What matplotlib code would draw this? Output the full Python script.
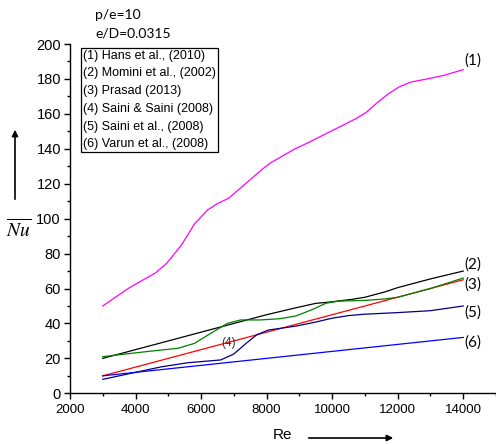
#!/usr/bin/env python3

import numpy as np
import matplotlib
matplotlib.use('Agg')
import matplotlib.pyplot as plt
from matplotlib.ticker import MultipleLocator

plt.rcParams['font.family'] = ['Liberation Sans', 'DejaVu Sans']
plt.rcParams['mathtext.fontset'] = 'stix'

# values
re_hans = [3000, 3400, 3800, 4200, 4600, 4950, 5400, 5800, 6200, 6500, 6850, 7250,
           7900, 8100, 8800, 9300, 9850, 10300, 10750, 11050, 11350, 11700, 12050,
           12400, 12900, 13400, 14000]
nu_hans = [50, 55.2, 60.3, 64.6, 68.8, 74.4, 84.9, 97, 105, 108.6, 111.8, 118.3,
           128.8, 131.7, 139.3, 143.8, 149, 153.2, 157.5, 161, 166, 171.3, 175.5,
           178.2, 180, 182, 185.3]

re_momini = [3000, 5000, 7000, 8000, 8900, 9500, 10000, 10600, 11000, 11600, 12000,
             13000, 14000]
nu_momini = [20, 30, 40, 45, 49, 51.5, 52.4, 53.8, 55, 58, 60.5, 65.5, 70]

re_prasad = [3000, 6000, 9000, 12000, 14000]
nu_prasad = [10, 25, 40, 55, 65]

re_saini_saini = [3000, 4300, 5300, 5800, 6300, 6800, 7200, 7800, 8400, 8900, 9400,
                  9800, 10200, 11000, 11600, 12000, 13000, 14000]
nu_saini_saini = [21, 23.8, 25.8, 28.6, 34.4, 40, 42, 42, 42.7, 44.3, 48,
                  51.5, 52.8, 53.2, 54, 55, 60, 66]

re_saini = [3000, 4000, 4800, 5600, 6600, 7000, 7400, 7700, 8050, 8900, 9500, 10000,
            10500, 11000, 12000, 13000, 14000]
nu_saini = [8, 12, 15.2, 17.5, 19.1, 22.5, 29, 33.5, 36.2, 38.5, 40.8, 43,
            44.5, 45.3, 46.2, 47.3, 50]

re_varun = [3000, 7500, 14000]
nu_varun = [10, 19, 32]

legend_lines = ['(1) Hans et al., (2010)', '(2) Momini et al., (2002)',
                '(3) Prasad (2013)', '(4) Saini & Saini (2008)',
                '(5) Saini et al., (2008)', '(6) Varun et al., (2008)']

fig = plt.figure(figsize=(4.96, 4.44), dpi=100)
ax = fig.add_axes([70/496, 1 - 393.3/444, 426/496, (393.3 - 44)/444])

lw = 0.9
ax.plot(re_hans, nu_hans, color='#ff00ff', lw=lw)
ax.plot(re_momini, nu_momini, color='black', lw=lw)
ax.plot(re_prasad, nu_prasad, color='#ff0000', lw=lw)
ax.plot(re_saini_saini, nu_saini_saini, color='#008000', lw=lw)
ax.plot(re_saini, nu_saini, color='#000080', lw=lw)
ax.plot(re_varun, nu_varun, color='#0000ff', lw=lw)

ax.set_xlim(2000, 15000)
ax.set_ylim(0, 200)
ax.spines['top'].set_visible(False)
ax.spines['right'].set_visible(False)
for s in ['left', 'bottom']:
    ax.spines[s].set_linewidth(1.0)
ax.xaxis.set_major_locator(MultipleLocator(2000))
ax.xaxis.set_minor_locator(MultipleLocator(1000))
ax.yaxis.set_major_locator(MultipleLocator(20))
ax.yaxis.set_minor_locator(MultipleLocator(10))
ax.tick_params(which='major', direction='out', length=4.5, width=1.0)
ax.tick_params(which='minor', direction='out', length=2.5, width=1.0)
ax.tick_params(axis='y', labelsize=10.5, pad=2)
ax.tick_params(axis='x', labelsize=9.5, pad=3)

# curve labels
lab_font = dict(family=['Lato', 'DejaVu Sans'], fontsize=11)
ax.text(14050, 190.5, '(1)', va='center', ha='left', **lab_font)
ax.text(14050, 74, '(2)', va='center', ha='left', **lab_font)
ax.text(14050, 62.5, '(3)', va='center', ha='left', **lab_font)
ax.text(14050, 46.3, '(5)', va='center', ha='left', **lab_font)
ax.text(14050, 29, '(6)', va='center', ha='left', **lab_font)
ax.text(6830, 28.6, '(4)', va='center', ha='center', fontsize=8.5, color='#333333')

# legend box
ax.text(2400, 196.8, '\n'.join(legend_lines), va='top', ha='left', fontsize=9,
        linespacing=1.64,
        bbox=dict(boxstyle='square,pad=0.15', facecolor='white', edgecolor='black', lw=0.9))

fig.text(95/496, 1 - 15/444, 'p/e=10', va='center', ha='left',
         family=['Lato', 'DejaVu Sans'], fontsize=10)
fig.text(95/496, 1 - 33/444, 'e/D=0.0315', va='center', ha='left',
         family=['Lato', 'DejaVu Sans'], fontsize=10)

# axis labels with arrows
fig.text(19/496, 1 - 229/444, r'$\overline{Nu}$', va='center', ha='center', fontsize=14)
ax.annotate('', xy=(15/496, 1 - 127/444), xytext=(15/496, 1 - 202/444),
            xycoords='figure fraction', textcoords='figure fraction',
            arrowprops=dict(arrowstyle='-|>', color='black', lw=1.2, mutation_scale=9))
fig.text(283/496, 1 - 435/444, 'Re', va='center', ha='center', fontsize=11)
ax.annotate('', xy=(396/496, 1 - 438/444), xytext=(306/496, 1 - 438/444),
            xycoords='figure fraction', textcoords='figure fraction',
            arrowprops=dict(arrowstyle='-|>', color='black', lw=1.2, mutation_scale=9))

fig.savefig('out.png', dpi=100)
